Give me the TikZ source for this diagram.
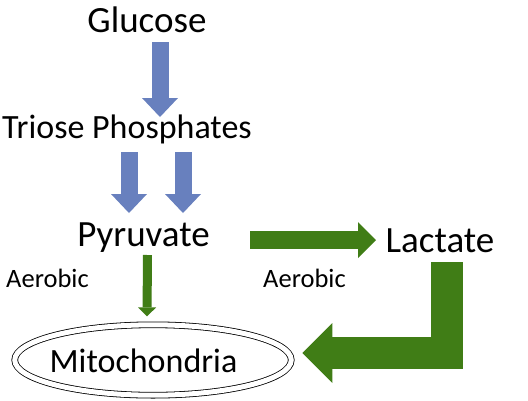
\documentclass[tikz,border=0pt]{standalone}
\usepackage{fontspec}
\setmainfont{Carlito}
\usetikzlibrary{arrows.meta,shapes.geometric,positioning}
\definecolor{flowblue}{RGB}{104,128,190}
\definecolor{flowgreen}{RGB}{64,125,22}

\begin{document}
\begin{tikzpicture}[x=1pt, y=-1pt,
  lbl/.style={inner sep=0pt, anchor=base, font=\fontsize{37}{44}\selectfont},
  sublbl/.style={lbl, font=\fontsize{34}{40}\selectfont},
  note/.style={lbl, font=\fontsize{26.5}{32}\selectfont},
  bluearrow/.style={draw=flowblue, line width=17pt,
                    -{Triangle[width=36pt,length=19pt,line width=0pt]}},
  greenarrow/.style={draw=flowgreen, line width=18pt,
                     -{Triangle[width=36pt,length=18pt,line width=0pt]}},
  thinarrow/.style={draw=flowgreen, line width=9pt,
                    -{Triangle[width=18pt,length=9pt,line width=0pt]}},
  bigarrow/.style={draw=flowgreen, line width=32pt, line join=miter,
                   -{Triangle[width=60pt,length=30pt,line width=0pt]}}]
  \useasboundingbox (0,0) rectangle (528,400);
  \node (glu) [lbl] at (147,32) {Glucose};
  \node (tri) [sublbl] at (127,138) {Triose Phosphates};
  \node (pyr) [lbl] at (143.5,246) {Pyruvate};
  \node (lac) [lbl] at (440,252) {Lactate};
  \node (aer1) [note] at (47.5,287) {Aerobic};
  \node (aer2) [note] at (304.5,287) {Aerobic};
  \node (mito) [draw, double, line width=0.8pt, double distance=5pt, ellipse,
                inner sep=0pt, minimum width=276.5pt, minimum height=70.4pt] at (153,360) {};
  \node (mitotxt) [sublbl] at (143.5,372) {Mitochondria};
  % glycolysis
  \draw[bluearrow] ([shift={(13,10)}]glu.base) -- ([shift={(33,-21)}]tri.base);
  \draw[bluearrow] ([shift={(2,14)}]tri.base) -- ([shift={(-14.5,-33)}]pyr.base);
  \draw[bluearrow] ([shift={(56,14)}]tri.base) -- ([shift={(39.5,-33)}]pyr.base);
  % pyruvate and lactate
  \draw[greenarrow] ([shift={(106.5,-6)}]pyr.base) -- ([shift={(-64,-12)}]lac.base);
  \draw[thinarrow] ([shift={(4,9)}]pyr.base) -- ([shift={(-6,-8)}]mito.north);
  \draw[bigarrow] ([shift={(6.5,10)}]lac.base) |- ([shift={(10.8,-7)}]mito.east);
\end{tikzpicture}
\end{document}
